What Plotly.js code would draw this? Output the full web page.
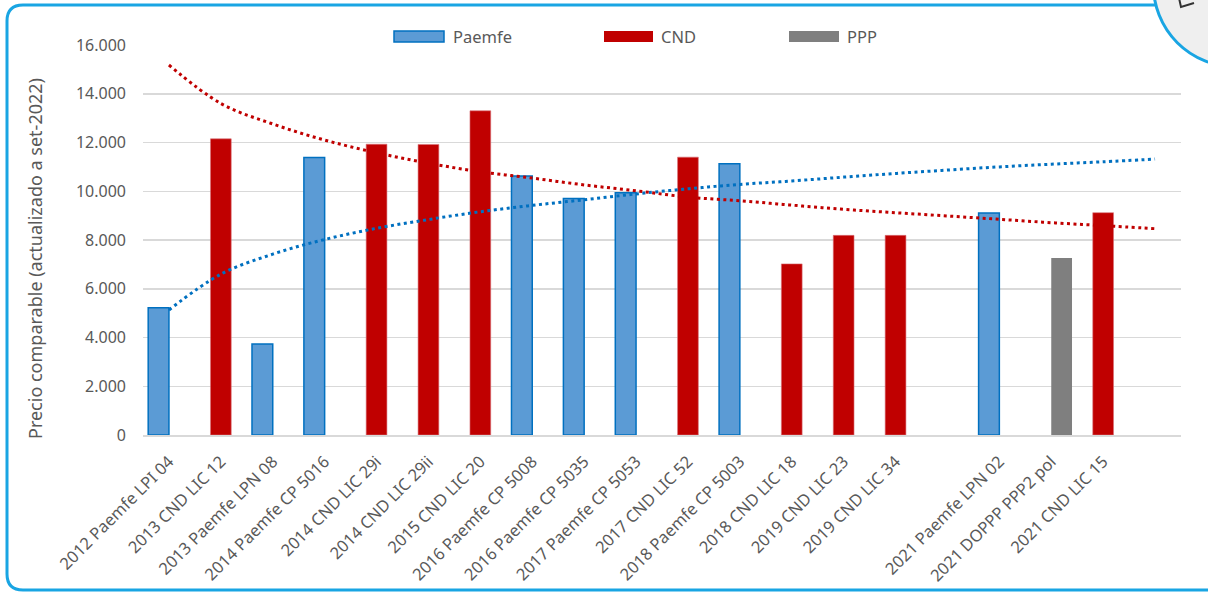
<!DOCTYPE html>
<html>
<head>
<meta charset="utf-8">
<script src="https://cdn.plot.ly/plotly-3.0.1.min.js"></script>
<style>
  html, body { margin: 0; padding: 0; background: #ffffff; }
  #chart { width: 1208px; height: 593px; }
</style>
</head>
<body>
<div id="chart"></div>
<script>
// ---- Data ----
const categories = [
  "2012 Paemfe LPI 04", "2013 CND LIC 12", "2013 Paemfe LPN 08", "2014 Paemfe CP 5016",
  "2014 CND LIC 29i", "2014 CND LIC 29ii", "2015 CND LIC 20", "2016 Paemfe CP 5008",
  "2016 Paemfe CP 5035", "2017 Paemfe CP 5053", "2017 CND LIC 52", "2018 Paemfe CP 5003",
  "2018 CND LIC 18", "2019 CND LIC 23", "2019 CND LIC 34", "",
  "2021 Paemfe LPN 02", "2021 DOPPP PPP2 pol", "2021 CND LIC 15", ""
];
const paemfe = [5220, null, 3730, 11380, null, null, null, 10630, 9700, 9940, null, 11130,
                null, null, null, null, 9110, null, null, null];
const cnd    = [null, 12150, null, null, 11930, 11920, 13300, null, null, null, 11400, null,
                7020, 8190, 8190, null, null, null, 9120, null];
const ppp    = [null, null, null, null, null, null, null, null, null, null, null, null,
                null, null, null, null, null, 7260, null, null];
// dotted trend lines, values read at each category position
const paemfeTrend = [5130, 6600, 7420, 8020, 8480, 8840, 9160, 9420, 9650, 9890,
                     10100, 10280, 10420, 10580, 10730, 10870, 11000, 11110, 11210, 11320];
const cndTrend    = [15180, 13600, 12760, 12100, 11580, 11150, 10800, 10540, 10260, 10020,
                     9760, 9610, 9430, 9260, 9120, 8985, 8850, 8710, 8590, 8465];
const yTitle = "Precio comparable (actualizado a set-2022)";
const legendNames = ["Paemfe", "CND", "PPP"];

// ---- Layout helpers ----
const idx = categories.map((_, i) => i);
const W = 1208, H = 593, L = 143, R = 1181, T = 45, B = 435;
const px = v => (v - L) / (R - L);       // pixel x -> paper x
const py = v => (B - v) / (B - T);       // pixel y -> paper y

const colPaemfe = "#5B9BD5", colPaemfeLine = "#0070C0";
const colCND = "#C00000", colPPP = "#7F7F7F";
const txtCol = "#595959";

const traces = [
  { type: "bar", x: idx, y: paemfe, width: 0.4, offset: -0.4, name: legendNames[0],
    marker: { color: colPaemfe, line: { color: colPaemfeLine, width: 1.5 } }, showlegend: false },
  { type: "bar", x: idx, y: cnd, width: 0.4, offset: -0.2, name: legendNames[1],
    marker: { color: colCND, line: { color: "#d9737a", width: 0.6 } }, showlegend: false },
  { type: "bar", x: idx, y: ppp, width: 0.4, offset: 0, name: legendNames[2],
    marker: { color: colPPP, line: { width: 0 } }, showlegend: false },
  { type: "scatter", mode: "lines", x: idx, y: paemfeTrend, showlegend: false,
    line: { color: "#0070C0", width: 3, dash: "3px,3.5px", shape: "spline" } },
  { type: "scatter", mode: "lines", x: idx, y: cndTrend, showlegend: false,
    line: { color: "#C00000", width: 3, dash: "3px,3.5px", shape: "spline" } }
];

// rounded frame (slide decoration)
const fx0 = px(7), fx1 = px(1240), fy0 = py(5), fy1 = py(590);
const rx = 16 / (R - L), ry = 16 / (B - T);
const framePath = `M ${fx1},${fy0} L ${fx0 + rx},${fy0} Q ${fx0},${fy0} ${fx0},${fy0 - ry} ` +
                  `L ${fx0},${fy1 + ry} Q ${fx0},${fy1} ${fx0 + rx},${fy1} L ${fx1},${fy1}`;

const legendItems = [
  { x0: 394, x1: 444, tx: 451, fill: colPaemfe, line: colPaemfeLine, lw: 1.5 },
  { x0: 604, x1: 653, tx: 659, fill: colCND, line: colCND, lw: 0 },
  { x0: 789, x1: 839, tx: 845, fill: colPPP, line: colPPP, lw: 0 }
];

const shapes = [
  // white legend background hiding the top gridline
  { type: "rect", xref: "paper", yref: "paper", x0: px(287), x1: px(1008), y0: py(53), y1: py(24),
    fillcolor: "#ffffff", line: { width: 0 }, layer: "above" },
  { type: "path", xref: "paper", yref: "paper", path: framePath,
    line: { color: "#19a5e3", width: 3 }, layer: "above" },
  { type: "circle", xref: "paper", yref: "paper",
    x0: px(1235 - 81.6), x1: px(1235 + 81.6), y0: py(-15 + 81.6), y1: py(-15 - 81.6),
    fillcolor: "#efefef", line: { color: "#19a5e3", width: 3 }, layer: "above" },
  { type: "path", xref: "paper", yref: "paper",
    path: `M ${px(1179)},${py(-2)} L ${px(1181)},${py(7)} L ${px(1194)},${py(3)}`,
    line: { color: "#333333", width: 2 }, layer: "above" }
];
const annotations = [];
legendItems.forEach((it, i) => {
  shapes.push({ type: "rect", xref: "paper", yref: "paper",
    x0: px(it.x0), x1: px(it.x1), y0: py(42), y1: py(31),
    fillcolor: it.fill, line: { color: it.line, width: it.lw }, layer: "above" });
  annotations.push({ xref: "paper", yref: "paper", x: px(it.tx), y: py(36.5),
    xanchor: "left", yanchor: "middle", showarrow: false, text: legendNames[i],
    font: { size: 16.5, color: txtCol } });
});
// y-axis title placed like the reference
annotations.push({ xref: "paper", yref: "paper", x: px(35), y: py(259),
  xanchor: "center", yanchor: "middle", showarrow: false, textangle: -90,
  text: yTitle, font: { size: 18, color: txtCol } });

const layout = {
  width: W, height: H,
  margin: { l: L, r: W - R, t: T, b: H - B, pad: 0 },
  paper_bgcolor: "#ffffff", plot_bgcolor: "#ffffff",
  font: { family: "Noto Sans, Open Sans, sans-serif", color: txtCol, size: 16 },
  separators: ",.",
  barmode: "overlay",
  hovermode: false,
  showlegend: false,
  xaxis: {
    type: "linear", range: [-0.5, categories.length - 0.5],
    tickmode: "array", tickvals: idx, ticktext: categories, tickangle: -45,
    showgrid: false, zeroline: false, showline: true, linecolor: "#d9d9d9", linewidth: 1.5,
    ticks: "", ticklabelstandoff: 9, tickfont: { size: 16.5, color: txtCol },
    fixedrange: true, automargin: false
  },
  yaxis: {
    range: [0, 16000], dtick: 2000, tick0: 0, tickformat: ",",
    showgrid: true, gridcolor: "#d9d9d9", gridwidth: 1.5,
    zeroline: false, showline: false, ticks: "", ticklabelstandoff: 16,
    tickfont: { size: 16, color: txtCol }, fixedrange: true, automargin: false
  },
  shapes: shapes,
  annotations: annotations
};

Plotly.newPlot("chart", traces, layout, { displayModeBar: false, staticPlot: true });
</script>
</body>
</html>
